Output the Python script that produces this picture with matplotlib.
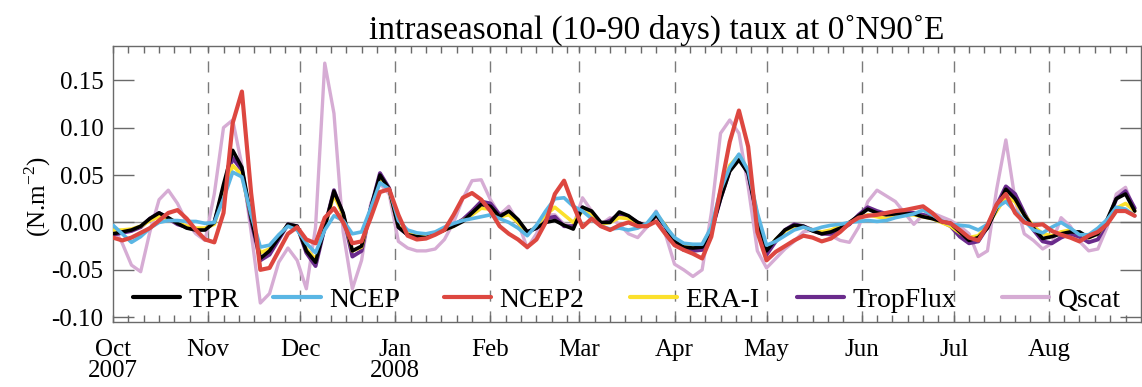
import numpy as np
import matplotlib
matplotlib.use("Agg")
import matplotlib.pyplot as plt
import matplotlib.dates as mdates
from matplotlib.legend import Legend

plt.rcParams['font.family'] = ['Liberation Serif', 'DejaVu Serif']
plt.rcParams['mathtext.fontset'] = 'custom'
plt.rcParams['mathtext.rm'] = 'Liberation Serif'
plt.rcParams['axes.unicode_minus'] = False

# sampling: every 3 days from 1 Oct 2007
start = np.datetime64('2007-10-01')
day_offsets = np.arange(0, 334, 3)

tpr = [-0.012, -0.010, -0.008, -0.004, 0.004, 0.010, 0.005, -0.001, -0.006, -0.008,
       -0.008, 0.000, 0.040, 0.076, 0.058, 0.005, -0.038, -0.030, -0.016, -0.002,
       -0.004, -0.030, -0.042, -0.005, 0.033, 0.010, -0.030, -0.025, 0.015, 0.050,
       0.035, -0.005, -0.013, -0.015, -0.016, -0.012, -0.008, -0.004, 0.001, 0.010,
       0.019, 0.017, 0.006, 0.012, 0.003, -0.010, -0.006, 0.000, 0.002, -0.003,
       -0.007, 0.016, 0.012, 0.000, 0.000, 0.011, 0.007, 0.000, -0.004, 0.008,
       -0.004, -0.020, -0.026, -0.027, -0.026, -0.008, 0.025, 0.054, 0.066, 0.052,
       0.005, -0.030, -0.018, -0.008, -0.003, -0.004, -0.009, -0.012, -0.010, -0.006,
       0.000, 0.007, 0.014, 0.010, 0.008, 0.009, 0.009, 0.009, 0.006, 0.004,
       0.001, -0.001, -0.010, -0.019, -0.016, -0.006, 0.015, 0.035, 0.025, 0.008,
       -0.006, -0.017, -0.015, -0.012, -0.010, -0.010, -0.016, -0.012, 0.003, 0.025,
       0.030, 0.012]

ncep = [-0.003, -0.012, -0.021, -0.015, -0.006, 0.000, 0.002, 0.002, 0.001, 0.001,
        -0.001, 0.000, 0.025, 0.053, 0.048, 0.008, -0.026, -0.024, -0.013, -0.004,
        -0.008, -0.022, -0.032, -0.008, 0.007, 0.002, -0.012, -0.010, 0.015, 0.042,
        0.035, 0.002, -0.008, -0.011, -0.012, -0.010, -0.005, -0.001, 0.002, 0.004,
        0.006, 0.008, 0.004, 0.000, -0.006, -0.014, -0.003, 0.012, 0.025, 0.026,
        0.017, 0.012, 0.004, -0.004, -0.007, -0.006, -0.008, -0.006, -0.001, 0.011,
        -0.004, -0.016, -0.022, -0.023, -0.023, -0.005, 0.034, 0.058, 0.072, 0.055,
        0.010, -0.024, -0.020, -0.014, -0.008, -0.005, -0.008, -0.005, -0.003, -0.002,
        0.000, 0.001, 0.002, 0.001, 0.002, 0.005, 0.007, 0.009, 0.013, 0.008,
        0.002, -0.002, -0.003, -0.004, -0.008, -0.002, 0.016, 0.022, 0.012, 0.002,
        -0.008, -0.011, -0.005, 0.000, -0.006, -0.013, -0.013, -0.006, 0.003, 0.016,
        0.014, 0.007]

ncep2 = [-0.016, -0.019, -0.016, -0.011, -0.006, 0.002, 0.010, 0.013, 0.004, -0.008,
         -0.018, -0.021, 0.010, 0.105, 0.138, 0.031, -0.050, -0.048, -0.030, -0.012,
         -0.005, -0.018, -0.022, 0.005, 0.015, 0.000, -0.022, -0.020, 0.005, 0.032,
         0.035, 0.008, -0.014, -0.018, -0.017, -0.013, -0.008, 0.008, 0.026, 0.031,
         0.024, 0.012, -0.004, -0.012, -0.018, -0.026, -0.018, 0.000, 0.030, 0.044,
         0.018, -0.005, 0.004, -0.004, -0.008, -0.003, 0.000, -0.004, -0.004, 0.001,
         -0.012, -0.024, -0.029, -0.033, -0.038, -0.015, 0.035, 0.085, 0.118, 0.080,
         -0.010, -0.040, -0.031, -0.025, -0.019, -0.014, -0.016, -0.020, -0.017, -0.010,
         -0.001, 0.005, 0.007, 0.008, 0.010, 0.012, 0.013, 0.015, 0.017, 0.010,
         0.001, -0.001, -0.008, -0.016, -0.019, -0.003, 0.019, 0.030, 0.010, 0.000,
         -0.003, -0.002, -0.009, -0.013, -0.016, -0.020, -0.014, -0.010, -0.002, 0.012,
         0.012, 0.007]

era_i = [-0.008, -0.008, -0.007, -0.004, 0.002, 0.006, 0.004, 0.000, -0.004, -0.006,
         -0.006, -0.002, 0.030, 0.060, 0.050, 0.006, -0.032, -0.028, -0.014, -0.003,
         -0.005, -0.028, -0.039, -0.004, 0.029, 0.008, -0.030, -0.026, 0.012, 0.046,
         0.034, -0.004, -0.012, -0.014, -0.015, -0.011, -0.008, -0.004, 0.002, 0.008,
         0.015, 0.014, 0.006, 0.008, 0.000, -0.012, -0.004, 0.008, 0.016, 0.008,
         0.000, 0.012, 0.008, -0.002, 0.000, 0.005, 0.004, -0.002, -0.004, 0.009,
         -0.003, -0.018, -0.024, -0.025, -0.024, -0.006, 0.030, 0.060, 0.071, 0.055,
         0.008, -0.028, -0.018, -0.009, -0.004, -0.005, -0.008, -0.010, -0.008, -0.004,
         0.000, 0.004, 0.008, 0.006, 0.004, 0.006, 0.008, 0.008, 0.006, 0.004,
         0.000, -0.004, -0.011, -0.016, -0.014, -0.003, 0.012, 0.027, 0.022, 0.008,
         -0.004, -0.012, -0.014, -0.010, -0.008, -0.011, -0.016, -0.012, 0.000, 0.015,
         0.020, 0.012]

tropflux = [-0.013, -0.011, -0.009, -0.005, 0.004, 0.010, 0.004, -0.002, -0.005, -0.008,
            -0.007, 0.000, 0.035, 0.068, 0.055, 0.002, -0.040, -0.034, -0.018, -0.002,
            -0.004, -0.032, -0.046, -0.005, 0.034, 0.008, -0.036, -0.030, 0.015, 0.052,
            0.036, -0.005, -0.013, -0.015, -0.016, -0.012, -0.007, -0.003, 0.003, 0.012,
            0.022, 0.020, 0.008, 0.010, 0.000, -0.010, -0.006, 0.004, 0.006, -0.004,
            -0.004, 0.016, 0.010, -0.002, 0.002, 0.009, 0.006, 0.000, -0.004, 0.008,
            -0.004, -0.022, -0.029, -0.030, -0.029, -0.010, 0.025, 0.055, 0.068, 0.052,
            0.004, -0.034, -0.020, -0.008, -0.002, -0.004, -0.008, -0.012, -0.012, -0.008,
            -0.002, 0.008, 0.016, 0.012, 0.009, 0.010, 0.011, 0.010, 0.008, 0.005,
            0.001, -0.004, -0.015, -0.022, -0.020, -0.005, 0.018, 0.038, 0.030, 0.010,
            -0.008, -0.020, -0.022, -0.016, -0.012, -0.015, -0.021, -0.018, 0.000, 0.025,
            0.033, 0.015]

qscat = [-0.005, -0.022, -0.045, -0.052, -0.010, 0.024, 0.034, 0.020, 0.000, -0.012,
         -0.019, 0.030, 0.100, 0.108, 0.060, -0.010, -0.085, -0.075, -0.042, -0.027,
         -0.040, -0.070, -0.005, 0.168, 0.115, -0.010, -0.070, -0.040, 0.020, 0.041,
         0.030, -0.020, -0.027, -0.030, -0.030, -0.028, -0.018, 0.000, 0.025, 0.044,
         0.045, 0.024, 0.008, 0.017, 0.000, -0.027, -0.012, 0.008, 0.008, -0.002,
         -0.004, 0.026, 0.012, -0.002, 0.005, -0.002, -0.012, -0.016, -0.005, 0.012,
         -0.012, -0.044, -0.050, -0.057, -0.050, 0.010, 0.094, 0.108, 0.094, 0.038,
         -0.030, -0.048, -0.038, -0.028, -0.020, -0.010, -0.008, -0.010, -0.014, -0.019,
         -0.021, -0.005, 0.022, 0.034, 0.028, 0.022, 0.010, -0.002, 0.008, 0.010,
         0.006, 0.002, -0.004, -0.012, -0.036, -0.030, 0.035, 0.087, 0.024, -0.012,
         -0.019, -0.028, -0.022, 0.005, -0.004, -0.020, -0.030, -0.028, -0.005, 0.030,
         0.037, 0.012]

series_names = ['TPR', 'NCEP', 'NCEP2', 'ERA-I', 'TropFlux', 'Qscat']
series_values = [tpr, ncep, ncep2, era_i, tropflux, qscat]
series_colors = ['#000000', '#5ab6e4', '#dd4740', '#fbe02c', '#6a2b8c', '#d6acd4']
series_widths = [2.6, 2.6, 3.0, 2.6, 2.8, 2.4]
series_zorder = [5, 6, 7, 4, 3, 2]
# left edge of each legend entry, as a fraction of the axes width
legend_slots = [0.019, 0.156, 0.322, 0.503, 0.665, 0.865]

y_ticks = [-0.10, -0.05, 0.00, 0.05, 0.10, 0.15]
y_ticklabels = ['-0.10', '-0.05', '0.00', '0.05', '0.10', '0.15']

month_starts = np.arange(np.datetime64('2007-10'), np.datetime64('2008-09'),
                         np.timedelta64(1, 'M')).astype('datetime64[D]')
month_labels = ['Oct\n2007', 'Nov', 'Dec', 'Jan\n2008', 'Feb', 'Mar', 'Apr',
                'May', 'Jun', 'Jul', 'Aug']

dates = start + day_offsets.astype('timedelta64[D]')

fig = plt.figure(figsize=(11.42, 3.87), dpi=100)
ax = fig.add_axes([0.099, 0.168, 0.9, 0.713])

ax.axhline(0.0, color='#9a9a9a', lw=1.0, zorder=1)
for m in month_starts[1:]:
    ax.axvline(m, color='#7a7a7a', lw=1.0, ls=(0, (8, 7)), zorder=1)

handles = []
for name, vals, col, lw, z in zip(series_names, series_values, series_colors,
                                  series_widths, series_zorder):
    h, = ax.plot(dates, vals, color=col, lw=lw, zorder=z, label=name,
                 solid_capstyle='round', solid_joinstyle='round')
    handles.append(h)

ax.set_xlim(np.datetime64('2007-10-01'), np.datetime64('2008-08-31'))
ax.set_ylim(-0.105, 0.186)

ax.set_yticks(y_ticks)
ax.set_yticklabels(y_ticklabels, fontsize=18)
ax.set_xticks(month_starts)
ax.set_xticklabels(month_labels, fontsize=18, linespacing=0.95)
ax.xaxis.set_minor_locator(mdates.DayLocator(bymonthday=[1, 6, 11, 16, 21, 26]))

ax.tick_params(axis='y', which='major', direction='in', length=15, width=1,
               color='#6a6a6a', left=True, right=True, pad=7)
ax.tick_params(axis='x', which='both', direction='in', length=5, width=1,
               color='#6a6a6a', top=True, bottom=True, pad=12)

for s in ax.spines.values():
    s.set_color('#6a6a6a')
    s.set_linewidth(1.0)

ax.set_ylabel('(N.m$^{-2}$)', fontsize=18)
ax.yaxis.set_label_coords(-0.058, 0.456)
ax.set_title('intraseasonal (10-90 days) taux at 0\u02daN90\u02daE', fontsize=24, pad=5)
ax.title.set_x(0.529)

# one legend entry per slot, spread along the bottom of the axes
for h, name, xs in zip(handles, series_names, legend_slots):
    leg = Legend(ax, [h], [name], loc='center left', bbox_to_anchor=(xs, 0.08),
                 frameon=False, fontsize=20, handlelength=1.7, handletextpad=0.3,
                 borderpad=0.0, borderaxespad=0.0)
    for lh in leg.get_lines():
        lh.set_linewidth(3.0)
    ax.add_artist(leg)

fig.savefig('out.png', dpi=100)
